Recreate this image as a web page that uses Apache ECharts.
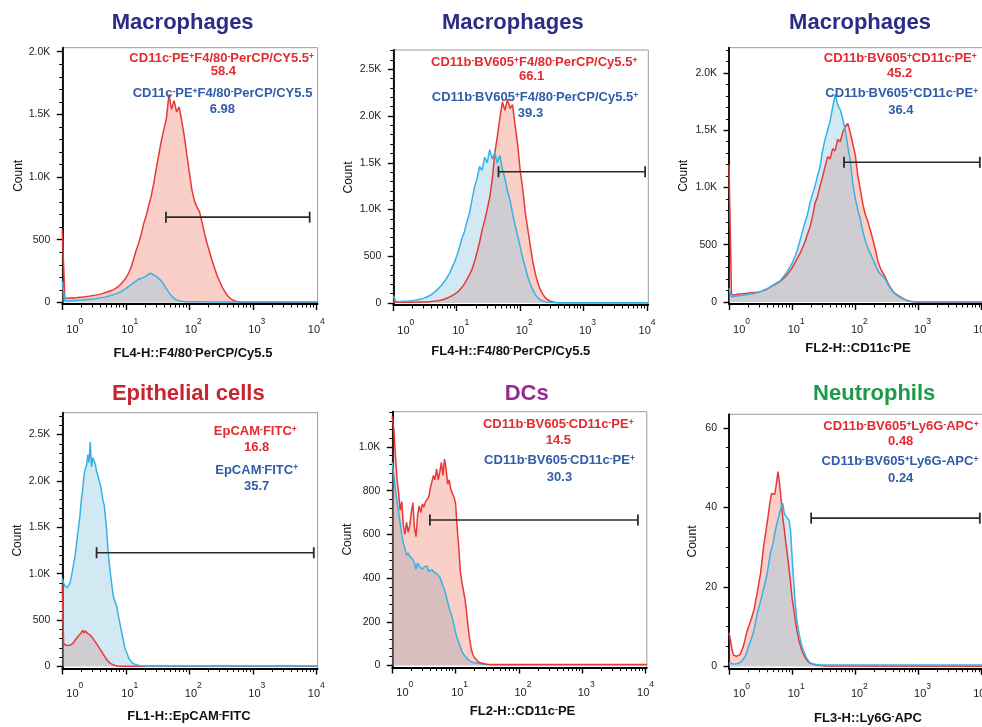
<!DOCTYPE html>
<html>
<head>
<meta charset="utf-8">
<title>Flow cytometry histograms</title>
<script src="https://cdn.jsdelivr.net/npm/echarts@6/dist/echarts.min.js"></script>
<style>
html,body{margin:0;padding:0;background:#fff;}
#chart{width:982px;height:727px;}
</style>
</head>
<body>
<div id="chart"></div>
<script>
// ================= DATA =================
// x positions are log10 of the fluorescence channel (10^0 .. 10^4)
const xTickExps = [0, 1, 2, 3, 4];
const xMinorMultipliers = [2, 3, 4, 5, 6, 7, 8, 9];
const xMaxExp = 4.02;

const titles = ['Macrophages', 'Macrophages', 'Macrophages', 'Epithelial cells', 'DCs', 'Neutrophils'];
const xNames = ['FL4-H::F4/80⁻PerCP/Cy5.5', 'FL4-H::F4/80⁻PerCP/Cy5.5', 'FL2-H::CD11c⁻PE',
                'FL1-H::EpCAM⁻FITC', 'FL2-H::CD11c⁻PE', 'FL3-H::Ly6G⁻APC'];
const redLabels = ['CD11c⁻PE⁺F4/80⁻PerCP/CY5.5⁺', 'CD11b⁻BV605⁺F4/80⁻PerCP/Cy5.5⁺', 'CD11b⁻BV605⁺CD11c⁻PE⁺',
                   'EpCAM⁻FITC⁺', 'CD11b⁻BV605⁻CD11c⁻PE⁺', 'CD11b⁻BV605⁺Ly6G⁻APC⁺'];
const redValues = ['58.4', '66.1', '45.2', '16.8', '14.5', '0.48'];
const blueLabels = ['CD11c⁻PE⁺F4/80⁻PerCP/CY5.5', 'CD11b⁻BV605⁺F4/80⁻PerCP/Cy5.5⁺', 'CD11b⁻BV605⁺CD11c⁻PE⁺',
                    'EpCAM⁻FITC⁺', 'CD11b⁻BV605⁻CD11c⁻PE⁺', 'CD11b⁻BV605⁺Ly6G-APC⁺'];
const blueValues = ['6.98', '39.3', '36.4', '35.7', '30.3', '0.24'];

// y tick values
const p1YTicks = [0, 500, 1000, 1500, 2000];
const p2YTicks = [0, 500, 1000, 1500, 2000, 2500];
const p3YTicks = [0, 500, 1000, 1500, 2000];
const p4YTicks = [0, 500, 1000, 1500, 2000, 2500];
const p5YTicks = [0, 200, 400, 600, 800, 1000];
const p6YTicks = [0, 20, 40, 60];

// histogram bin step (in decades); bins start at 10^0
const p1Step = 0.04, p2Step = 0.04, p3Step = 0.04, p4Step = 0.02, p5Step = 0.025, p6Step = 0.025;

const p1Red = [580,35,33,35,37,36,39,41,42,45, 48,51,55,58,62,66,72,79,85,93, 100,112,126,145,168,195,230,275,340,410,
  470,540,625,690,770,850,950,1070,1180,1290, 1380,1470,1660,1540,1610,1520,1560,1450,1330,1180,
  1040,900,810,760,725,640,550,470,400,330, 270,210,165,120,85,55,35,20,11,6, 3,2,2];
const p1Blue = [170,14,13,14,15,16,17,19,20,22, 24,26,28,30,33,36,40,44,49,55, 62,68,76,85,98,110,125,140,155,170,
  185,192,200,210,225,232,218,208,190,172, 142,110,78,52,32,20,13,9,7,6, 6,5,5,5,5,5,5,4,4,4,
  4,4,4,4,4,4,4,4,4,4, 4,4,4];

const p2Red = [12,8,8,7,8,7,8,8,9,9, 10,10,11,12,14,16,19,22,27,33, 40,50,62,76,92,110,135,165,205,250,
  300,360,440,540,650,780,880,1000,1130,1320, 1600,1780,1980,2150,2060,2180,2080,2120,1900,1700,
  1420,1220,970,790,610,440,310,210,140,90, 55,32,18,10,5,2];
const p2Blue = [80,18,15,16,18,20,22,25,28,32, 37,43,52,62,75,90,110,135,160,190, 225,265,310,370,430,500,590,690,760,870,
  960,1100,1240,1330,1460,1420,1560,1500,1640,1540, 1610,1500,1580,1430,1330,1200,1100,960,830,720,
  600,480,380,280,200,140,90,55,32,20, 12,8,6,5,5,4];

const p3Red = [1200,65,62,66,70,72,75,74,78,80, 82,84,88,95,105,112,125,138,150,165, 175,195,215,240,270,300,340,380,420,470,
  520,590,650,740,860,920,1010,1090,1180,1270, 1250,1340,1320,1420,1400,1480,1530,1560,1480,1380,
  1280,1100,980,850,760,700,620,540,450,350, 290,250,210,160,120,90,70,55,42,28, 18,10,5,2,0];
const p3Blue = [120,45,48,52,55,58,62,64,68,72, 75,80,86,95,105,115,128,142,155,170, 180,205,235,265,300,340,390,450,530,610,
  690,760,860,940,1010,1100,1180,1320,1420,1500, 1580,1700,1810,1720,1680,1600,1500,1360,1230,1030,
  900,800,720,610,530,470,420,370,320,270, 240,220,195,150,115,85,65,50,38,25, 16,8,5,4,3];

const p4Red = [870,250,240,225,222,230,238,235,250,262, 275,300,320,335,350,365,390,360,385,375,
  355,360,340,325,305,285,265,245,225,200, 180,160,135,115,95,75,58,45,33,24, 17,13,10,8,6,5,4,4,4,3,
  3,3,3,3,3,3,3,3,3,3, 3,3,3,3,3,3,3,3,3,3, 3];
const p4Blue = [950,900,870,855,850,860,900,960,1030,1110, 1190,1300,1420,1520,1640,1800,1900,2050,2130,2160,
  2280,2200,2420,2150,2250,2230,2180,2100,2060,2000, 1960,1880,1790,1740,1600,1460,1250,1100,990,880,
  770,720,680,640,560,490,420,350,290,220, 170,140,100,75,55,40,30,25,20,16, 13,11,9,8,7,6,6,5,5,5, 5];

const p5Red = [1140,1080,960,850,790,710,750,640,600,655, 610,640,700,745,630,590,690,730,700,740,
  725,750,745,770,810,840,870,850,900,850, 885,930,870,945,900,830,850,805,810,770,
  740,630,540,430,380,340,300,240,170,115, 72,48,35,26,19,14,11,9,8,7, 6,5,5,4,4];
const p5Blue = [930,870,800,750,700,650,600,560,535,505, 515,500,505,485,470,440,470,455,460,440,
  450,445,455,430,425,440,430,425,420,415, 405,385,365,345,320,290,260,240,215,185,
  150,125,105,85,65,52,42,33,26,20, 16,14,12,11,10,9,8,7,6,5, 4,3,3,3,3];

const p6Red = [8.5,6.5,4,2.8,2.5,2.6,2.8,3,4,5, 6.5,8.3,9.5,10.7,11.8,13.2,14.5,16.8,18.8,21.3,
  23.5,27,30.5,33,35.8,38.5,41.5,43.5,44,43.3, 46,49,46,42,37.5,34.5,31,28,24.5,21,
  17,14.5,11.5,9,7,5.5,4.2,3.2,2.4,1.7, 1.2,0.9,0.7,0.6,0.5,0.4,0.35,0.3,0.25,0.2, 0.15,0.1,0.1,0.1,0.05];
const p6Blue = [0.8,0.8,0.7,0.6,0.6,0.7,0.8,1,1.3,1.6, 2.4,3.3,4.5,5.6,6.8,8,9.5,11.5,13.5,15,
  16.5,18,19.8,21.3,23,25.5,28,29.8,31.2,33.5, 35.4,37,38.6,40,41,38.5,37.8,37.5,36.8,34,
  27,21,15.5,11.5,9,7,5.4,4.1,3.2,2.2, 1.6,1,0.8,0.7,0.6,0.5,0.5,0.4,0.4,0.4, 0.4,0.4,0.4,0.4,0.4];

// gates: [from exponent, to exponent, count level]
const p1Gate = [1.632, 3.895, 680];
const p2Gate = [1.658, 3.97, 1404];
const p3Gate = [1.82, 3.97, 1220];
const p4Gate = [0.54, 3.96, 1226];
const p5Gate = [0.594, 3.88, 666];
const p6Gate = [1.30, 3.97, 37.3];

// ================= LAYOUT / STYLE =================
const FONT = '"Liberation Sans", Arial, Helvetica, sans-serif';
const RED_LINE = '#E8393A', BLUE_LINE = '#34B3E6';
const RED_FILL = 'rgba(235,70,40,0.37)', BLUE_FILL = 'rgba(148,200,226,0.6)';
const RED_TXT = '#E42A2F', BLUE_TXT = '#2F5DAA';
const titleColors = ['#2B2C86', '#2B2C86', '#2B2C86', '#C62630', '#962A8D', '#1D9A49'];

const layout = [
  {g:[62.3,47.7,255.3,256.3], y:[-12.8,2032], minor:100, yGap:38, xGap:42.5, xShift:3, t:[182.7,23.4],
   ann:[[221.7,58.3],[223.3,71.7],[222.5,93.3],[222.3,109.3]], redTop:false},
  {g:[393.3,50,255,255], y:[-21.4,2706], minor:100, yGap:39, xGap:39.5, xShift:-10, t:[512.8,23.4],
   ann:[[534.2,62.7],[531.7,76.3],[535,97.3],[530.5,113.6]], redTop:false},
  {g:[729,47.7,254,256.3], y:[-17.5,2221], minor:100, yGap:39.7, xGap:37.5, xShift:2, t:[860,23.4],
   ann:[[900.3,58.3],[899.7,73.5],[901.7,93.8],[900.8,110]], redTop:false},
  {g:[62.3,412.7,255.3,255.8], y:[-21.5,2735], minor:100, yGap:39, xGap:41.7, xShift:-1, t:[188.3,393.6],
   ann:[[255.3,431.7],[256.7,447.3],[256.7,470],[256.7,486]], redTop:false},
  {g:[392.3,411.7,254.5,255.8], y:[-9.2,1161.5], minor:40, yGap:39, xGap:37.7, xShift:3, t:[526.7,393.6],
   ann:[[558.3,424.3],[558.3,440.7],[559.5,460.7],[559.5,477.3]], redTop:true},
  {g:[729,414.3,254,254.4], y:[-0.55,63.4], minor:5, yGap:30, xGap:43, xShift:12, t:[874.2,393.6],
   ann:[[901,426.5],[900.7,441.7],[900,461.2],[900.7,478.3]], redTop:false}
];

const panelData = [
  {step:p1Step, red:p1Red, blue:p1Blue, yTicks:p1YTicks, gate:p1Gate},
  {step:p2Step, red:p2Red, blue:p2Blue, yTicks:p2YTicks, gate:p2Gate},
  {step:p3Step, red:p3Red, blue:p3Blue, yTicks:p3YTicks, gate:p3Gate},
  {step:p4Step, red:p4Red, blue:p4Blue, yTicks:p4YTicks, gate:p4Gate},
  {step:p5Step, red:p5Red, blue:p5Blue, yTicks:p5YTicks, gate:p5Gate},
  {step:p6Step, red:p6Red, blue:p6Blue, yTicks:p6YTicks, gate:p6Gate}
];

// ================= BUILD =================
const xMinorVals = [];
for (let n = 0; n < 4; n++) xMinorMultipliers.forEach(k => xMinorVals.push(n + Math.log10(k)));

function supRich(str, b, s) {
  let out = '', buf = '';
  for (const ch of str) {
    if (ch === '⁺' || ch === '⁻') {
      if (buf) { out += '{' + b + '|' + buf + '}'; buf = ''; }
      out += '{' + s + '|' + (ch === '⁺' ? '+' : '-') + '}';
    } else buf += ch;
  }
  if (buf) out += '{' + b + '|' + buf + '}';
  return out;
}

function toPts(step, arr) {
  const pts = arr.map((v, i) => [Math.round(i * step * 1000) / 1000, v]);
  pts.push([xMaxExp, arr[arr.length - 1]]);
  return pts;
}

const xLabelRich = {
  b:  {fontSize: 11, color: '#222', fontFamily: FONT, padding: [7, 0, 0, 8]},
  b0: {fontSize: 11, color: '#222', fontFamily: FONT, padding: [7, 0, 0, 25]},
  s:  {fontSize: 8.5, color: '#222', fontFamily: FONT, verticalAlign: 'top'},
  s4: {fontSize: 8.5, color: '#222', fontFamily: FONT, verticalAlign: 'top', padding: [0, 8, 0, 0]}
};
function xLabelFmt(v) {
  const e = Math.round(v);
  return '{' + (e === 0 ? 'b0' : 'b') + '|10}{' + (e === 4 ? 's4' : 's') + '|' + e + '}';
}
function yLabelFmt(v) {
  return v >= 1000 ? (v / 1000).toFixed(1) + 'K' : String(v);
}

function textEl(x, y, str, color, size, sSize) {
  return {
    type: 'text', x: x, y: y, z: 100, silent: true,
    style: {
      text: supRich(str, 'r', 's'), align: 'center', verticalAlign: 'middle',
      fontSize: size, fontWeight: 'bold', fontFamily: FONT, fill: color,
      rich: {
        r: {fill: color, fontSize: size, fontWeight: 'bold', fontFamily: FONT},
        s: {fill: color, fontSize: sSize, fontWeight: 'bold', fontFamily: FONT, verticalAlign: 'top'}
      }
    }
  };
}

const grids = [], xAxes = [], yAxes = [], series = [], graphics = [];

layout.forEach((L, i) => {
  const D = panelData[i];
  grids.push({left: L.g[0], top: L.g[1], width: L.g[2], height: L.g[3], show: true,
    borderColor: '#9a9a9a', borderWidth: 1, backgroundColor: 'transparent',
    containLabel: false, outerBoundsMode: 'none'});

  const sh = L.xShift;
  xAxes.push({
    type: 'value', gridIndex: i, min: 0, max: xMaxExp, position: 'bottom',
    axisLine: {show: true, onZero: false, lineStyle: {color: '#000', width: 1.8}},
    axisTick: {show: true, customValues: xTickExps, length: 6, lineStyle: {color: '#000', width: 1.4}},
    axisLabel: {show: true, customValues: xTickExps, margin: 13, formatter: xLabelFmt, rich: xLabelRich,
      color: '#222', fontFamily: FONT},
    splitLine: {show: false},
    name: supRich(xNames[i], 'n', 'ns'), nameLocation: 'middle', nameGap: L.xGap, nameMoveOverlap: false,
    nameTextStyle: {fontSize: 13, fontWeight: 'bold', color: '#111', fontFamily: FONT,
      padding: [0, sh < 0 ? -2 * sh : 0, 0, sh > 0 ? 2 * sh : 0],
      rich: {
        n: {fontSize: 13, fontWeight: 'bold', color: '#111', fontFamily: FONT},
        ns: {fontSize: 8.5, fontWeight: 'bold', color: '#111', fontFamily: FONT, verticalAlign: 'top'}
      }}
  });
  xAxes.push({
    type: 'value', gridIndex: i, min: 0, max: xMaxExp, position: 'bottom',
    axisLine: {show: false, onZero: false},
    axisTick: {show: true, customValues: xMinorVals, length: 3.5, lineStyle: {color: '#000', width: 1}},
    axisLabel: {show: false}, splitLine: {show: false}
  });

  const majorStep = D.yTicks[1] - D.yTicks[0];
  const yMinorVals = [];
  for (let v = L.minor; v <= L.y[1]; v += L.minor) {
    if (Math.abs(v / majorStep - Math.round(v / majorStep)) > 1e-6) yMinorVals.push(v);
  }
  yAxes.push({
    type: 'value', gridIndex: i, min: L.y[0], max: L.y[1], position: 'left',
    axisLine: {show: true, onZero: false, lineStyle: {color: '#000', width: 1.8}},
    axisTick: {show: true, customValues: D.yTicks, length: 5.5, lineStyle: {color: '#000', width: 1.4}},
    axisLabel: {show: true, customValues: D.yTicks, formatter: yLabelFmt, fontSize: 10.5, color: '#222',
      margin: 12, fontFamily: FONT},
    splitLine: {show: false},
    name: 'Count', nameLocation: 'middle', nameGap: L.yGap, nameMoveOverlap: false,
    nameTextStyle: {fontSize: 12, color: '#111', fontFamily: FONT}
  });
  yAxes.push({
    type: 'value', gridIndex: i, min: L.y[0], max: L.y[1], position: 'left',
    axisLine: {show: false, onZero: false},
    axisTick: {show: true, customValues: yMinorVals, length: 3, lineStyle: {color: '#000', width: 1}},
    axisLabel: {show: false}, splitLine: {show: false}
  });

  const redS = {
    type: 'line', name: 'red' + i, xAxisIndex: 2 * i, yAxisIndex: 2 * i, data: toPts(D.step, D.red),
    showSymbol: false, symbol: 'none', silent: true,
    lineStyle: {color: RED_LINE, width: 1.5}, itemStyle: {color: RED_LINE},
    areaStyle: {color: RED_FILL}
  };
  const blueS = {
    type: 'line', name: 'blue' + i, xAxisIndex: 2 * i, yAxisIndex: 2 * i, data: toPts(D.step, D.blue),
    showSymbol: false, symbol: 'none', silent: true,
    lineStyle: {color: BLUE_LINE, width: 1.5}, itemStyle: {color: BLUE_LINE},
    areaStyle: {color: BLUE_FILL}
  };
  if (L.redTop) { series.push(blueS, redS); } else { series.push(redS, blueS); }
  series.push({
    type: 'line', name: 'gate' + i, xAxisIndex: 2 * i, yAxisIndex: 2 * i, z: 5, silent: true,
    data: [[D.gate[0], D.gate[2]], [D.gate[1], D.gate[2]]],
    symbol: 'rect', symbolSize: [1.8, 11], showSymbol: true,
    lineStyle: {color: '#2a2a2a', width: 1.6}, itemStyle: {color: '#2a2a2a'}
  });

  graphics.push(textEl(L.t[0], L.t[1], titles[i], titleColors[i], 22, 14));
  graphics.push(textEl(L.ann[0][0], L.ann[0][1], redLabels[i], RED_TXT, 13, 8.5));
  graphics.push(textEl(L.ann[1][0], L.ann[1][1], redValues[i], RED_TXT, 13, 8.5));
  graphics.push(textEl(L.ann[2][0], L.ann[2][1], blueLabels[i], BLUE_TXT, 13, 8.5));
  graphics.push(textEl(L.ann[3][0], L.ann[3][1], blueValues[i], BLUE_TXT, 13, 8.5));
});

const chart = echarts.init(document.getElementById('chart'), null, {renderer: 'canvas'});
chart.setOption({
  animation: false,
  backgroundColor: '#fff',
  textStyle: {fontFamily: FONT},
  grid: grids,
  xAxis: xAxes,
  yAxis: yAxes,
  series: series,
  graphic: {elements: graphics}
});
</script>
</body>
</html>
